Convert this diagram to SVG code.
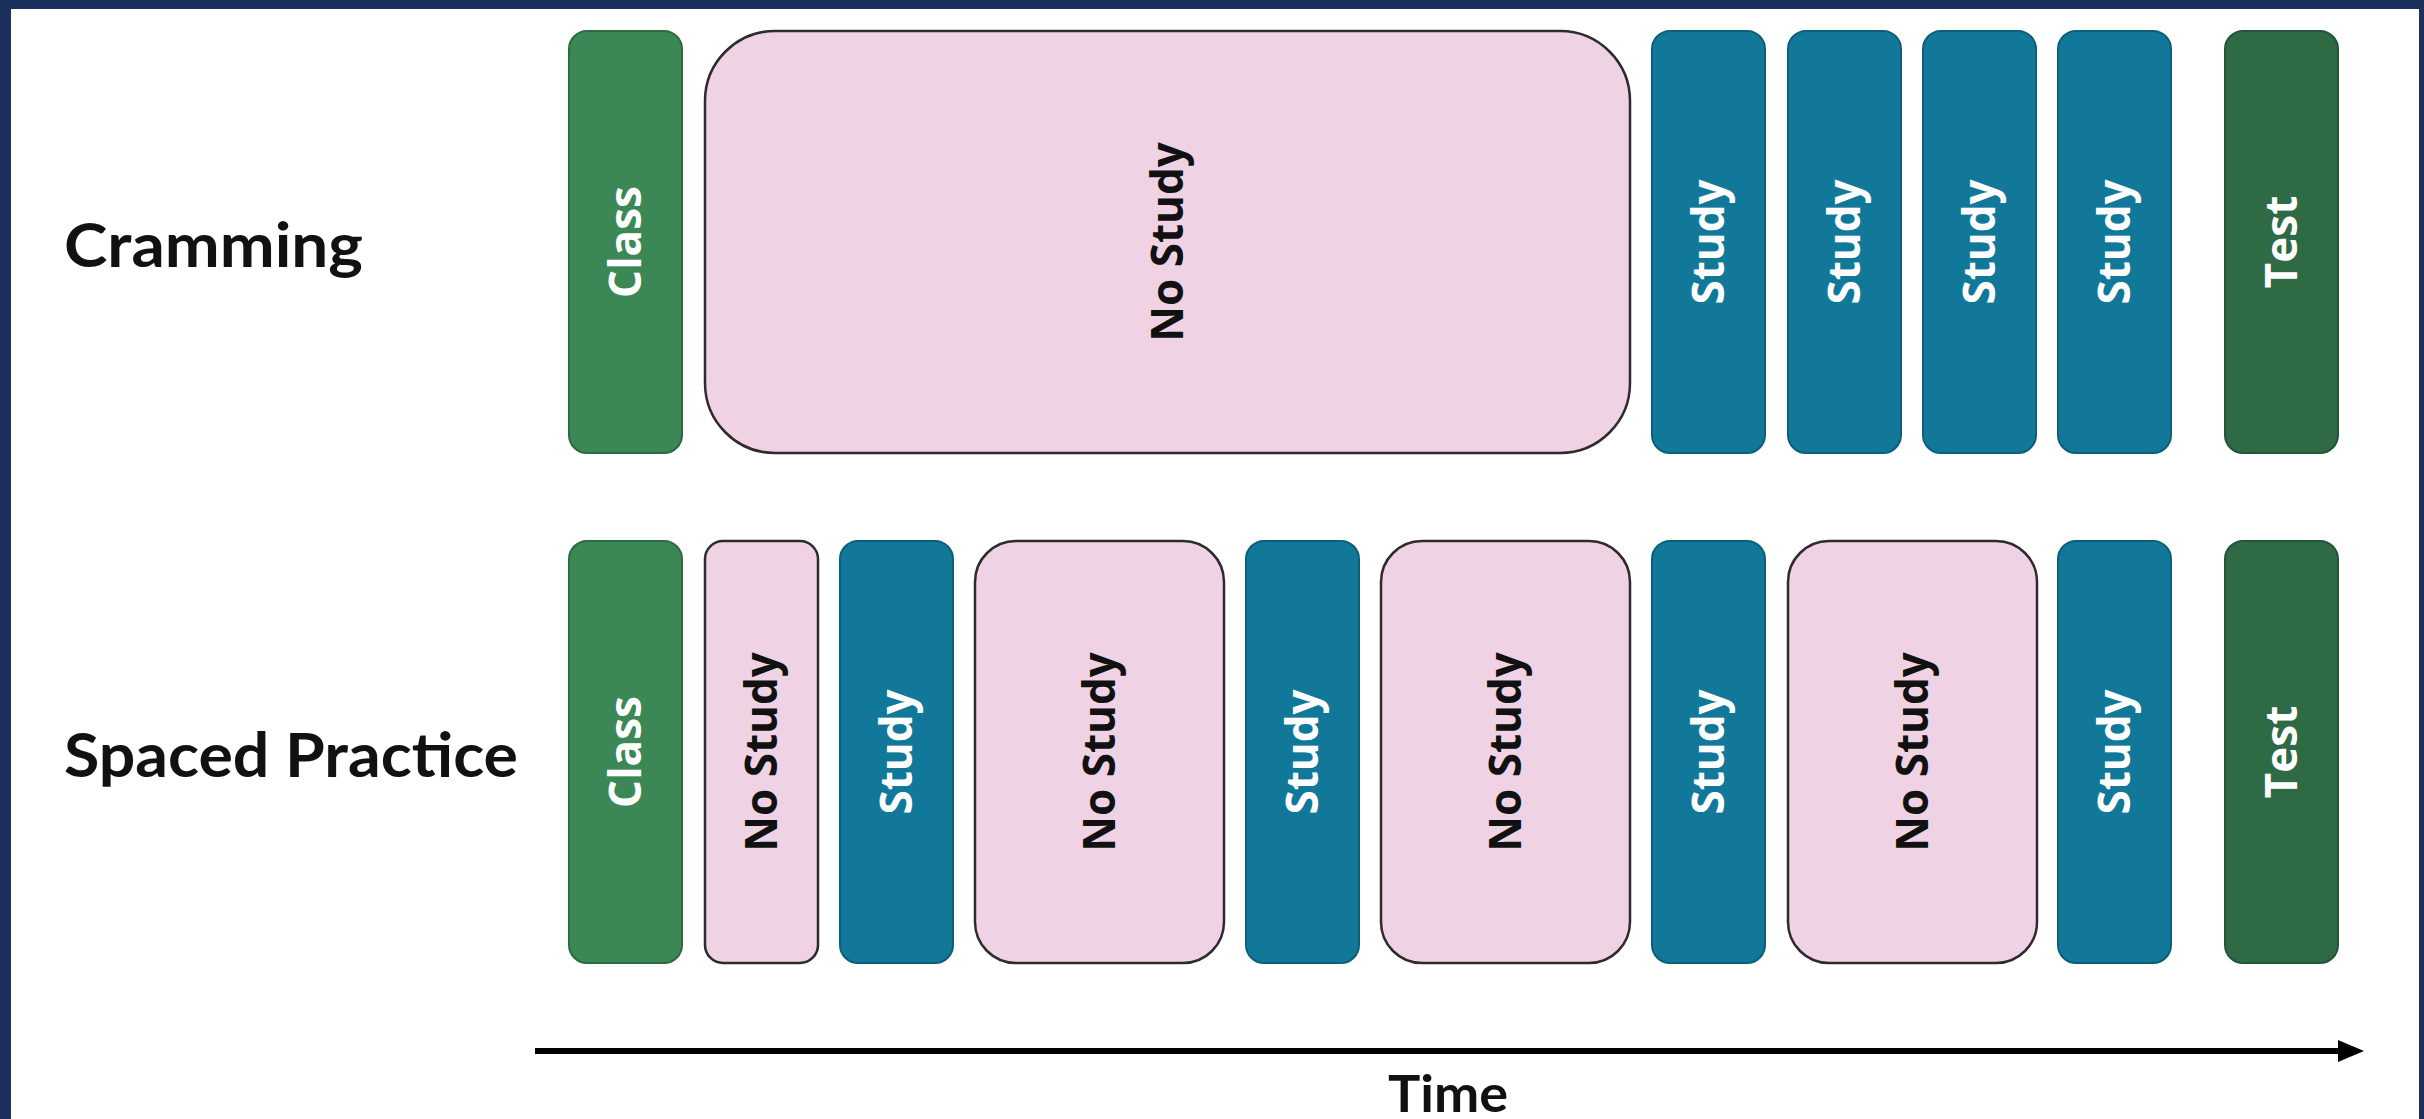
<svg xmlns="http://www.w3.org/2000/svg" width="2424" height="1119" viewBox="0 0 2424 1119">
  <style>
    .cls { fill: #3b8756; stroke: #2c6a42; stroke-width: 2; }
    .tst { fill: #2e6a44; stroke: #24553a; stroke-width: 2; }
    .stu { fill: #11789a; stroke: #0c5f7a; stroke-width: 2; }
    .nos { fill: #efd3e4; stroke: #2e2a2d; stroke-width: 2.5; }
    .wt { font-family: "Open Sans", "DejaVu Sans", sans-serif; font-weight: 700; font-size: 44px; fill: #ffffff; text-anchor: middle; }
    .bt { font-family: "Open Sans", "DejaVu Sans", sans-serif; font-weight: 700; font-size: 44px; fill: #111111; text-anchor: middle; }
    .lbl { font-family: Lato, "Liberation Sans", sans-serif; font-weight: 700; fill: #111111; }
  </style>
  <rect x="0" y="0" width="2424" height="1119" fill="#ffffff"/>
  <!-- frame -->
  <rect x="0" y="0" width="2424" height="9" fill="#1c305e"/>
  <rect x="0" y="0" width="11" height="1119" fill="#1c305e"/>
  <rect x="2419" y="0" width="5" height="1119" fill="#1c305e"/>

  <!-- row labels -->
  <g id="label-cramming"><text class="lbl" x="64" y="267" font-size="62" textLength="299" lengthAdjust="spacingAndGlyphs">Cramming</text></g>
  <g id="label-spaced"><text class="lbl" x="64" y="777" font-size="62" textLength="454" lengthAdjust="spacingAndGlyphs">Spaced Practice</text></g>

  <!-- Cramming row -->
  <g id="c-class"><rect class="cls" x="569" y="31" width="113" height="422" rx="18"/><text class="wt" transform="translate(625.5,242) rotate(-90)" dy="0.36em">Class</text></g>
  <g id="c-nostudy"><rect class="nos" x="705" y="31" width="925" height="422" rx="70"/><text class="bt" transform="translate(1167.5,242) rotate(-90)" dy="0.36em">No Study</text></g>
  <g id="c-study1"><rect class="stu" x="1652" y="31" width="113" height="422" rx="18"/><text class="wt" transform="translate(1708.5,242) rotate(-90)" dy="0.36em">Study</text></g>
  <g id="c-study2"><rect class="stu" x="1788" y="31" width="113" height="422" rx="18"/><text class="wt" transform="translate(1844.5,242) rotate(-90)" dy="0.36em">Study</text></g>
  <g id="c-study3"><rect class="stu" x="1923" y="31" width="113" height="422" rx="18"/><text class="wt" transform="translate(1979.5,242) rotate(-90)" dy="0.36em">Study</text></g>
  <g id="c-study4"><rect class="stu" x="2058" y="31" width="113" height="422" rx="18"/><text class="wt" transform="translate(2114.5,242) rotate(-90)" dy="0.36em">Study</text></g>
  <g id="c-test"><rect class="tst" x="2225" y="31" width="113" height="422" rx="18"/><text class="wt" transform="translate(2281.5,242) rotate(-90)" dy="0.36em">Test</text></g>

  <!-- Spaced practice row -->
  <g id="s-class"><rect class="cls" x="569" y="541" width="113" height="422" rx="18"/><text class="wt" transform="translate(625.5,752) rotate(-90)" dy="0.36em">Class</text></g>
  <g id="s-nostudy1"><rect class="nos" x="705" y="541" width="113" height="422" rx="18"/><text class="bt" transform="translate(761.5,752) rotate(-90)" dy="0.36em">No Study</text></g>
  <g id="s-study1"><rect class="stu" x="840" y="541" width="113" height="422" rx="18"/><text class="wt" transform="translate(896.5,752) rotate(-90)" dy="0.36em">Study</text></g>
  <g id="s-nostudy2"><rect class="nos" x="975" y="541" width="249" height="422" rx="41"/><text class="bt" transform="translate(1099.5,752) rotate(-90)" dy="0.36em">No Study</text></g>
  <g id="s-study2"><rect class="stu" x="1246" y="541" width="113" height="422" rx="18"/><text class="wt" transform="translate(1302.5,752) rotate(-90)" dy="0.36em">Study</text></g>
  <g id="s-nostudy3"><rect class="nos" x="1381" y="541" width="249" height="422" rx="41"/><text class="bt" transform="translate(1505.5,752) rotate(-90)" dy="0.36em">No Study</text></g>
  <g id="s-study3"><rect class="stu" x="1652" y="541" width="113" height="422" rx="18"/><text class="wt" transform="translate(1708.5,752) rotate(-90)" dy="0.36em">Study</text></g>
  <g id="s-nostudy4"><rect class="nos" x="1788" y="541" width="249" height="422" rx="41"/><text class="bt" transform="translate(1912.5,752) rotate(-90)" dy="0.36em">No Study</text></g>
  <g id="s-study4"><rect class="stu" x="2058" y="541" width="113" height="422" rx="18"/><text class="wt" transform="translate(2114.5,752) rotate(-90)" dy="0.36em">Study</text></g>
  <g id="s-test"><rect class="tst" x="2225" y="541" width="113" height="422" rx="18"/><text class="wt" transform="translate(2281.5,752) rotate(-90)" dy="0.36em">Test</text></g>

  <!-- time axis -->
  <g id="connectors">
    <line x1="535" y1="1051" x2="2344" y2="1051" stroke="#000000" stroke-width="6"/>
    <polygon points="2338,1040 2364,1051 2338,1062" fill="#000000"/>
  </g>
  <g id="label-time"><text class="lbl" x="1448" y="1112" font-size="52" text-anchor="middle" textLength="120" lengthAdjust="spacingAndGlyphs">Time</text></g>
</svg>
